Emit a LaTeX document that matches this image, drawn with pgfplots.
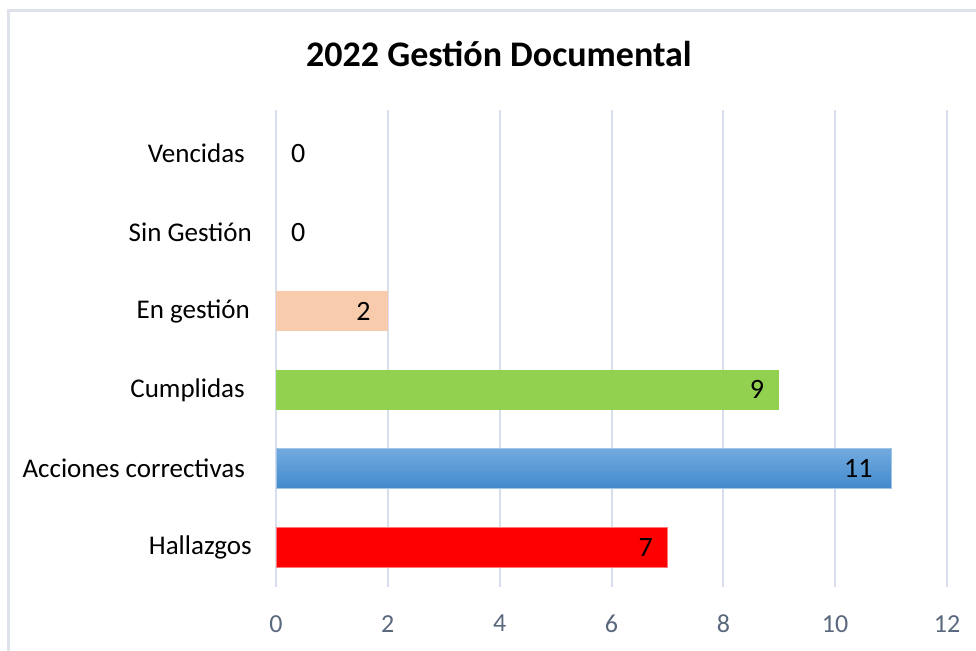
\documentclass[border=0pt]{standalone}
\usepackage{fontspec}
\setmainfont{Carlito}
\usepackage{pgfplots}
\pgfplotsset{compat=1.18}
\definecolor{gridc}{RGB}{216,222,235}
\definecolor{framec}{RGB}{222,226,234}
\definecolor{tickc}{RGB}{90,104,125}
\definecolor{redbar}{RGB}{255,0,0}
\definecolor{redline}{RGB}{255,120,120}
\definecolor{bluetop}{RGB}{114,170,223}
\definecolor{bluebot}{RGB}{66,138,204}
\definecolor{blueline}{RGB}{160,196,230}
\definecolor{greenbar}{RGB}{146,208,80}
\definecolor{peachbar}{RGB}{248,203,173}
\begin{document}
\begin{tikzpicture}
\useasboundingbox (0pt,0pt) rectangle (976pt,-650pt);
\draw[framec, line width=3pt] (8pt,-700pt) -- (8pt,-11pt) -- (1000pt,-11pt);
\node[font=\fontsize{36}{40}\selectfont\bfseries, anchor=base] at (499pt,-67pt) {2022 Gestión Documental};
\begin{axis}[
  at={(276pt,-587pt)}, anchor=south west,
  scale only axis, width=671pt, height=477pt,
  xmin=0, xmax=12, ymin=-0.5, ymax=5.55,
  xtick={0,2,...,12}, ytick={0,1,2,3,4,5},
  yticklabels={Hallazgos, Acciones correctivas\kern7pt, Cumplidas\kern7pt, En gestión\kern2pt, Sin Gestión, Vencidas\kern7pt},
  xmajorgrids, major grid style={gridc, line width=2pt},
  axis line style={draw=none}, major tick length=0pt,
  /pgf/number format/assume math mode=true,
  xticklabel style={font=\fontsize{26}{30}\selectfont, text=tickc, anchor=north, inner sep=0pt, yshift=-28pt},
  yticklabel style={font=\fontsize{27}{30}\selectfont, text=black, anchor=east, inner sep=0pt, xshift=-24pt},
  xbar, bar width=40pt,
  nodes near coords,
  every node near coord/.append style={font=\fontsize{28}{32}\selectfont, text=black, inner sep=0pt},
  clip=false,
]
\addplot[fill=redbar, draw=redline, line width=1pt, bar shift=0pt,
  every node near coord/.append style={anchor=east, xshift=-14pt}] coordinates {(7,0)};
\addplot[top color=bluetop, bottom color=bluebot, draw=blueline, line width=1pt, bar shift=0pt,
  every node near coord/.append style={anchor=east, xshift=-18pt}] coordinates {(11,1)};
\addplot[fill=greenbar, draw=none, bar shift=0pt,
  every node near coord/.append style={anchor=east, xshift=-15pt}] coordinates {(9,2)};
\addplot[fill=peachbar, draw=none, bar shift=0pt,
  every node near coord/.append style={anchor=east, xshift=-17pt}] coordinates {(2,3)};
\addplot[draw=none, fill=none, bar shift=0pt,
  every node near coord/.append style={anchor=west, xshift=15pt}] coordinates {(0,4)};
\addplot[draw=none, fill=none, bar shift=0pt,
  every node near coord/.append style={anchor=west, xshift=15pt}] coordinates {(0,5)};
\end{axis}
\end{tikzpicture}
\end{document}
